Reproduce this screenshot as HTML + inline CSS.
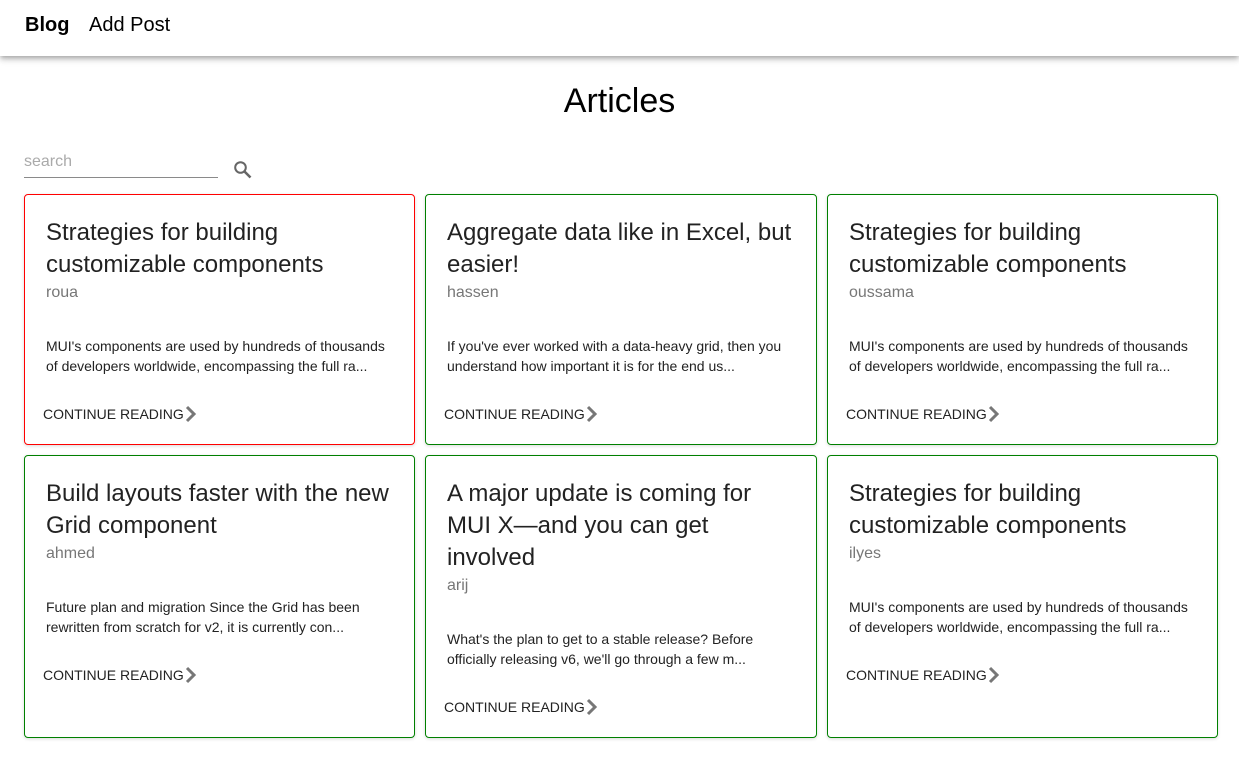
<!DOCTYPE html><html><head><style>
body{margin:0;width:1239px;height:773px;background:#fff;font-family:"Liberation Sans",Arial,sans-serif;position:relative;overflow:hidden}
.nav{position:absolute;left:0;top:0;width:1239px;height:56px;background:#fff;box-shadow:0 2px 4px -1px rgba(0,0,0,.2),0 4px 5px 0 rgba(0,0,0,.14),0 1px 10px 0 rgba(0,0,0,.12)}
.nav span{position:absolute;top:13px;font-size:20px;line-height:24px}
h1{position:absolute;top:81px;left:0;width:1239px;text-align:center;margin:0;font-size:34px;font-weight:400;line-height:40px}
.search{position:absolute;left:24px;top:152px;width:194px;height:25px;border-bottom:1px solid #8a8a8a;color:#aaa;font-size:16px;line-height:20px}
.card{position:absolute;border:1px solid #008000;border-radius:4px;box-sizing:border-box;box-shadow:0 1px 3px rgba(0,0,0,.15)}
.card.red{border-color:#f00}
.t{position:absolute;left:21px;top:22px;width:350px;font-size:24px;line-height:32px;color:#222}
.a{position:absolute;left:21px;font-size:16px;color:#777;line-height:20px}
.b{position:absolute;left:21px;width:350px;font-size:14px;line-height:20px;color:#222}
.c{position:absolute;left:18px;font-size:14px;line-height:20px;color:#222}
.c svg{position:absolute;left:142px;top:1px}
</style></head><body>
<div class="nav"><span style="left:25px;font-weight:bold">Blog</span><span style="left:89px">Add Post</span></div>
<h1>Articles</h1>
<div class="search">search</div>
<svg style="position:absolute;left:233px;top:160px" width="20" height="20" viewBox="0 0 20 20"><circle cx="7.5" cy="7.5" r="5.3" stroke="#666" stroke-width="2" fill="none"/><path d="M11.5 11.5L17.5 17.5" stroke="#666" stroke-width="2.6"/></svg>

<div class="card red" style="left:24px;top:194px;width:391px;height:251px">
<div class="t">Strategies for building customizable components</div><div class="a" style="top:88px">roua</div>
<div class="b" style="top:141px">MUI's components are used by hundreds of thousands of developers worldwide, encompassing the full ra...</div>
<div class="c" style="top:209px">CONTINUE READING<svg width="12" height="18" viewBox="0 0 12 18"><path d="M2 2l7 7-7 7" stroke="#777" stroke-width="3" fill="none"/></svg></div></div>

<div class="card" style="left:425px;top:194px;width:392px;height:251px">
<div class="t">Aggregate data like in Excel, but easier!</div><div class="a" style="top:88px">hassen</div>
<div class="b" style="top:141px">If you've ever worked with a data-heavy grid, then you understand how important it is for the end us...</div>
<div class="c" style="top:209px">CONTINUE READING<svg width="12" height="18" viewBox="0 0 12 18"><path d="M2 2l7 7-7 7" stroke="#777" stroke-width="3" fill="none"/></svg></div></div>

<div class="card" style="left:827px;top:194px;width:391px;height:251px">
<div class="t">Strategies for building customizable components</div><div class="a" style="top:88px">oussama</div>
<div class="b" style="top:141px">MUI's components are used by hundreds of thousands of developers worldwide, encompassing the full ra...</div>
<div class="c" style="top:209px">CONTINUE READING<svg width="12" height="18" viewBox="0 0 12 18"><path d="M2 2l7 7-7 7" stroke="#777" stroke-width="3" fill="none"/></svg></div></div>

<div class="card" style="left:24px;top:455px;width:391px;height:283px">
<div class="t">Build layouts faster with the new Grid component</div><div class="a" style="top:88px">ahmed</div>
<div class="b" style="top:141px">Future plan and migration Since the Grid has been rewritten from scratch for v2, it is currently con...</div>
<div class="c" style="top:209px">CONTINUE READING<svg width="12" height="18" viewBox="0 0 12 18"><path d="M2 2l7 7-7 7" stroke="#777" stroke-width="3" fill="none"/></svg></div></div>

<div class="card" style="left:425px;top:455px;width:392px;height:283px">
<div class="t">A major update is coming for MUI X—and you can get involved</div><div class="a" style="top:120px">arij</div>
<div class="b" style="top:173px">What's the plan to get to a stable release? Before officially releasing v6, we'll go through a few m...</div>
<div class="c" style="top:241px">CONTINUE READING<svg width="12" height="18" viewBox="0 0 12 18"><path d="M2 2l7 7-7 7" stroke="#777" stroke-width="3" fill="none"/></svg></div></div>

<div class="card" style="left:827px;top:455px;width:391px;height:283px">
<div class="t">Strategies for building customizable components</div><div class="a" style="top:88px">ilyes</div>
<div class="b" style="top:141px">MUI's components are used by hundreds of thousands of developers worldwide, encompassing the full ra...</div>
<div class="c" style="top:209px">CONTINUE READING<svg width="12" height="18" viewBox="0 0 12 18"><path d="M2 2l7 7-7 7" stroke="#777" stroke-width="3" fill="none"/></svg></div></div>
</body></html>
